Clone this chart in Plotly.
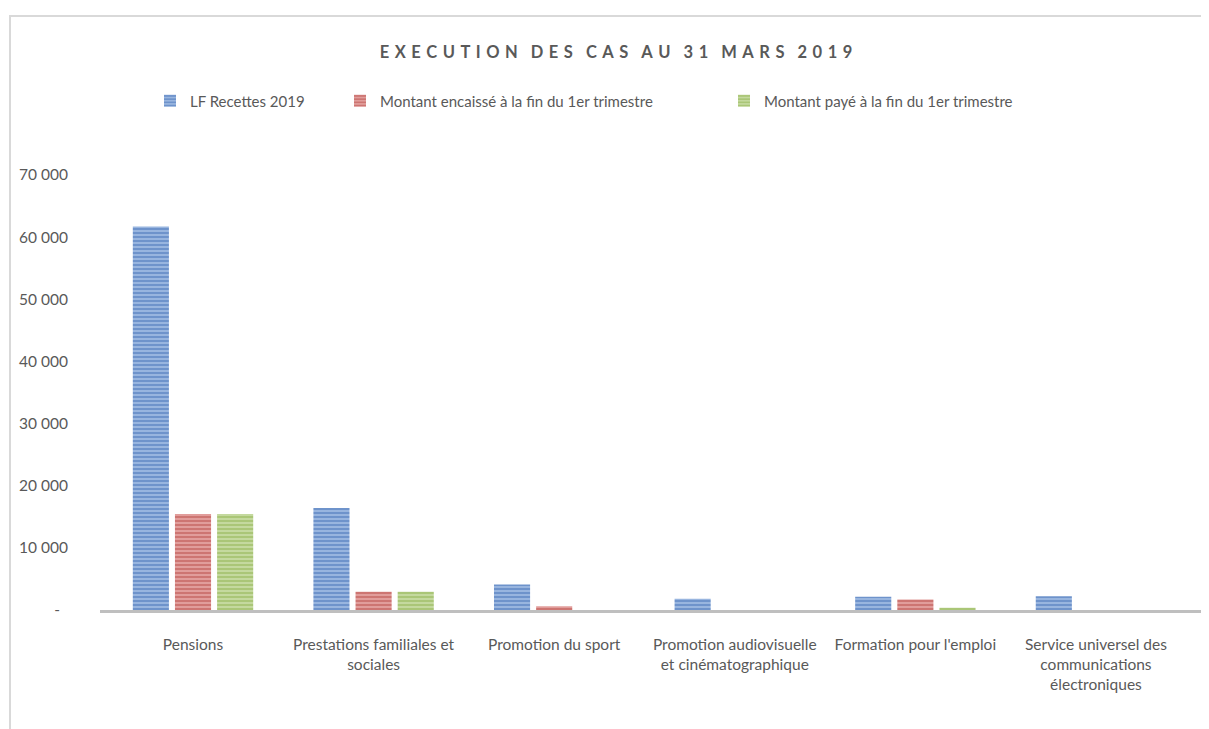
import plotly.graph_objects as go

categories = [
    "Pensions",
    "Prestations familiales et<br>sociales",
    "Promotion du sport",
    "Promotion audiovisuelle<br>et cinématographique",
    "Formation pour l'emploi",
    "Service universel des<br>communications<br>électroniques",
]
lf_recettes = [61700, 16400, 4100, 1800, 2150, 2200]
montant_encaisse = [15450, 2950, 600, 0, 1700, 0]
montant_paye = [15450, 2950, 0, 0, 350, 0]

series_names = [
    "LF Recettes 2019",
    "Montant encaissé à la fin du 1er trimestre",
    "Montant payé à la fin du 1er trimestre",
]
fg_colors = ["#3464ad", "#b23b38", "#86ab40"]
bg_colors = ["#a9c3e8", "#e9aeac", "#cfe1ae"]

y_tickvals = [0, 10000, 20000, 30000, 40000, 50000, 60000, 70000]
y_ticktext = ["-\u00a0\u00a0", "10 000", "20 000", "30 000", "40 000", "50 000", "60 000", "70 000"]

title_text = "EXECUTION DES CAS AU 31 MARS 2019"

FONT = "Lato, 'Open Sans', sans-serif"
TXT = "#595959"

# page has an 8px body margin: figure is drawn at (8, 8)
OFF = 8
W, H = 1209 - OFF, 729 - OFF
PL, PR, PT, PB = 100, 1209, 175, 610  # plot area in page pixels
PW, PH = PR - PL, PB - PT

x_idx = list(range(len(categories)))
series_values = [lf_recettes, montant_encaisse, montant_paye]
legend_ids = ["legend", "legend2", "legend3"]
legend_text_left = [190, 380, 764]

fig = go.Figure()
for name, vals, fg, bg, lid in zip(series_names, series_values, fg_colors, bg_colors, legend_ids):
    fig.add_trace(go.Bar(
        x=x_idx, y=vals, name=name, legend=lid, showlegend=True,
        marker=dict(color=bg, line=dict(width=0),
                    pattern=dict(shape="-", fgcolor=fg, bgcolor=bg, size=4, solidity=0.65, fillmode="overlay")),
        hoverinfo="x+y+name",
    ))

LETTER_SEP = "\u2004"
WORD_SEP = "\u2004\u2004\u2009"

def spaced(s):
    return WORD_SEP.join(LETTER_SEP.join(list(w)) for w in s.split(" "))

layout_legends = {}
for lid, tx in zip(legend_ids, legend_text_left):
    layout_legends[lid] = dict(
        orientation="h", yanchor="middle", y=(PB - 101) / PH, xanchor="left",
        x=(tx - 40 - PL) / PW,
        font=dict(family=FONT, size=15, color=TXT), bgcolor="rgba(0,0,0,0)",
        itemwidth=30,
    )

fig.update_layout(
    width=W, height=H,
    margin=dict(l=PL - OFF, r=0, t=PT - OFF, b=H - (PB - OFF)),
    paper_bgcolor="white", plot_bgcolor="white",
    showlegend=True,
    barmode="group", bargap=0.30, bargroupgap=0.143,
    font=dict(family=FONT, size=15, color=TXT),
    title=dict(text="<b>" + spaced(title_text) + "</b>", x=(616 - PL) / PW, xref="paper", xanchor="center",
               y=1 - (52 - OFF) / H, yref="container", yanchor="middle",
               font=dict(family=FONT, size=16.5, color=TXT)),
    **layout_legends,
    xaxis=dict(
        tickmode="array", tickvals=x_idx, ticktext=categories,
        range=[-0.515, 5.626], showgrid=False, zeroline=False,
        showline=True, linecolor="#bfbfbf", linewidth=3,
        ticks="", ticklabelstandoff=18,
        tickfont=dict(family=FONT, size=15.5, color=TXT),
        fixedrange=True,
    ),
    yaxis=dict(
        range=[0, 70000], tickmode="array", tickvals=y_tickvals, ticktext=y_ticktext,
        showgrid=False, zeroline=False, showline=False, ticks="",
        ticklabelstandoff=31,
        tickfont=dict(family=FONT, size=15.5, color=TXT),
        fixedrange=True,
    ),
    shapes=[dict(type="rect", xref="paper", yref="paper",
                 x0=(10 - PL) / PW, x1=(1240 - PL) / PW,
                 y0=(PB - 760) / PH, y1=(PB - 16) / PH,
                 line=dict(color="#d9d9d9", width=2), fillcolor="rgba(0,0,0,0)", layer="below")],
)

fig.write_html("out.html")
